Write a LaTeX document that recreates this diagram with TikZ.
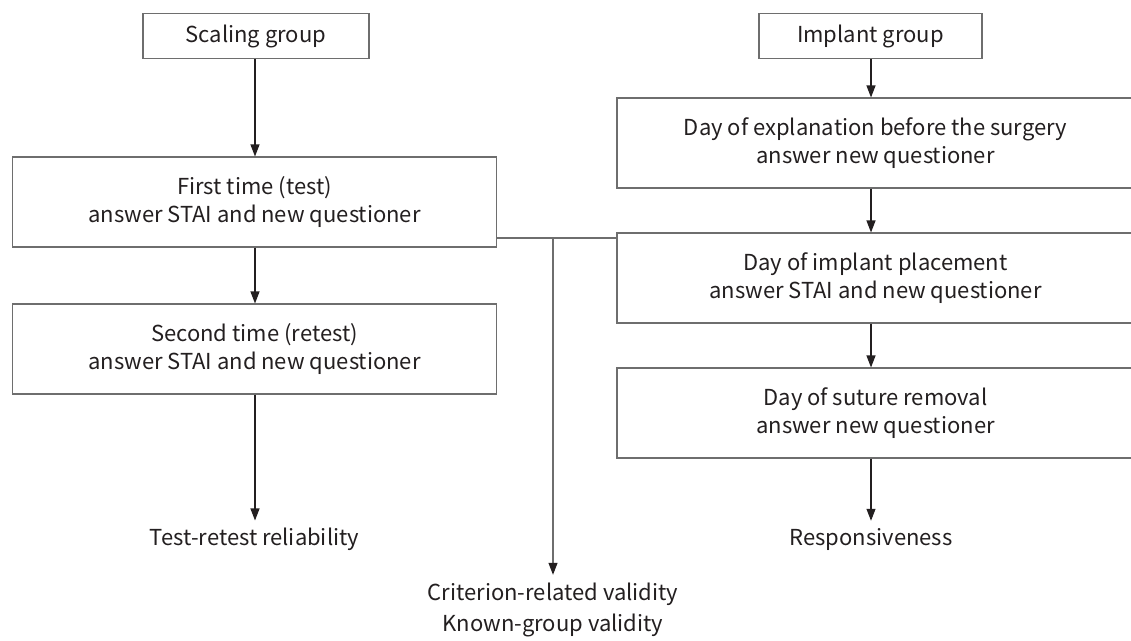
\documentclass[tikz,border=0pt]{standalone}
\usepackage{fontspec}
\setmainfont{Noto Sans CJK KR}
\usetikzlibrary{arrows.meta}
\definecolor{boxline}{RGB}{110,110,110}
\definecolor{arrline}{RGB}{35,31,32}
\definecolor{txt}{RGB}{35,31,32}
\tikzset{
  box/.style={draw=boxline, line width=1.1pt, align=center, inner sep=0pt,
    text=txt, font=\fontsize{22}{28}\selectfont},
  lbl/.style={align=center, inner sep=0pt, text=txt, font=\fontsize{22}{31}\selectfont},
  arr/.style={draw=arrline, line width=1.1pt, -{Triangle[length=12pt,width=9pt,color=arrline]}},
  link/.style={draw=boxline, line width=1.1pt},
}
\begin{document}
\begin{tikzpicture}[x=1pt,y=-1pt]
\clip (0,0) rectangle (1131,640);
\fill[white] (0,0) rectangle (1131,640);
% left column
\node[box, minimum width=226pt, minimum height=45pt] (scal) at (256,36) {Scaling group};
\node[box, minimum width=484pt, minimum height=90pt] (first) at (254.5,202) {First time (test)\\answer STAI and new questioner};
\node[box, minimum width=484pt, minimum height=90pt] (second) at (254.5,349) {Second time (retest)\\answer STAI and new questioner};
\node[lbl] (ttr) at (254.5,539) {Test-retest reliability};
% right column
\node[box, minimum width=223pt, minimum height=45pt] (imp) at (870.5,36) {Implant group};
\node[box, minimum width=517pt, minimum height=90pt] (expl) at (875.5,143) {Day of explanation before the surgery\\answer new questioner};
\node[box, minimum width=517pt, minimum height=90pt] (place) at (875.5,278) {Day of implant placement\\answer STAI and new questioner};
\node[box, minimum width=517pt, minimum height=90pt] (sut) at (875.5,413) {Day of suture removal\\answer new questioner};
\node[lbl] (resp) at (871,539) {Responsiveness};
% middle
\node[lbl] (crit) at (553,610) {Criterion-related validity\\Known-group validity};
\coordinate (j) at (553,238);
% connectors
\draw[arr] (scal.south -| 255,0) -- (first.north -| 255,0);
\draw[arr] (first.south -| 255,0) -- (second.north -| 255,0);
\draw[arr] (second.south -| 255,0) -- ([yshift=7pt]ttr.north -| 255,0);
\draw[arr] (imp.south -| 871,0) -- (expl.north -| 871,0);
\draw[arr] (expl.south -| 871,0) -- (place.north -| 871,0);
\draw[arr] (place.south -| 871,0) -- (sut.north -| 871,0);
\draw[arr] (sut.south -| 871,0) -- ([yshift=7pt]resp.north -| 871,0);
\draw[link] (first.east |- j) -- (place.west |- j);
\draw[arr, draw=boxline] (j) -- ([yshift=8pt]crit.north);
\end{tikzpicture}
\end{document}
